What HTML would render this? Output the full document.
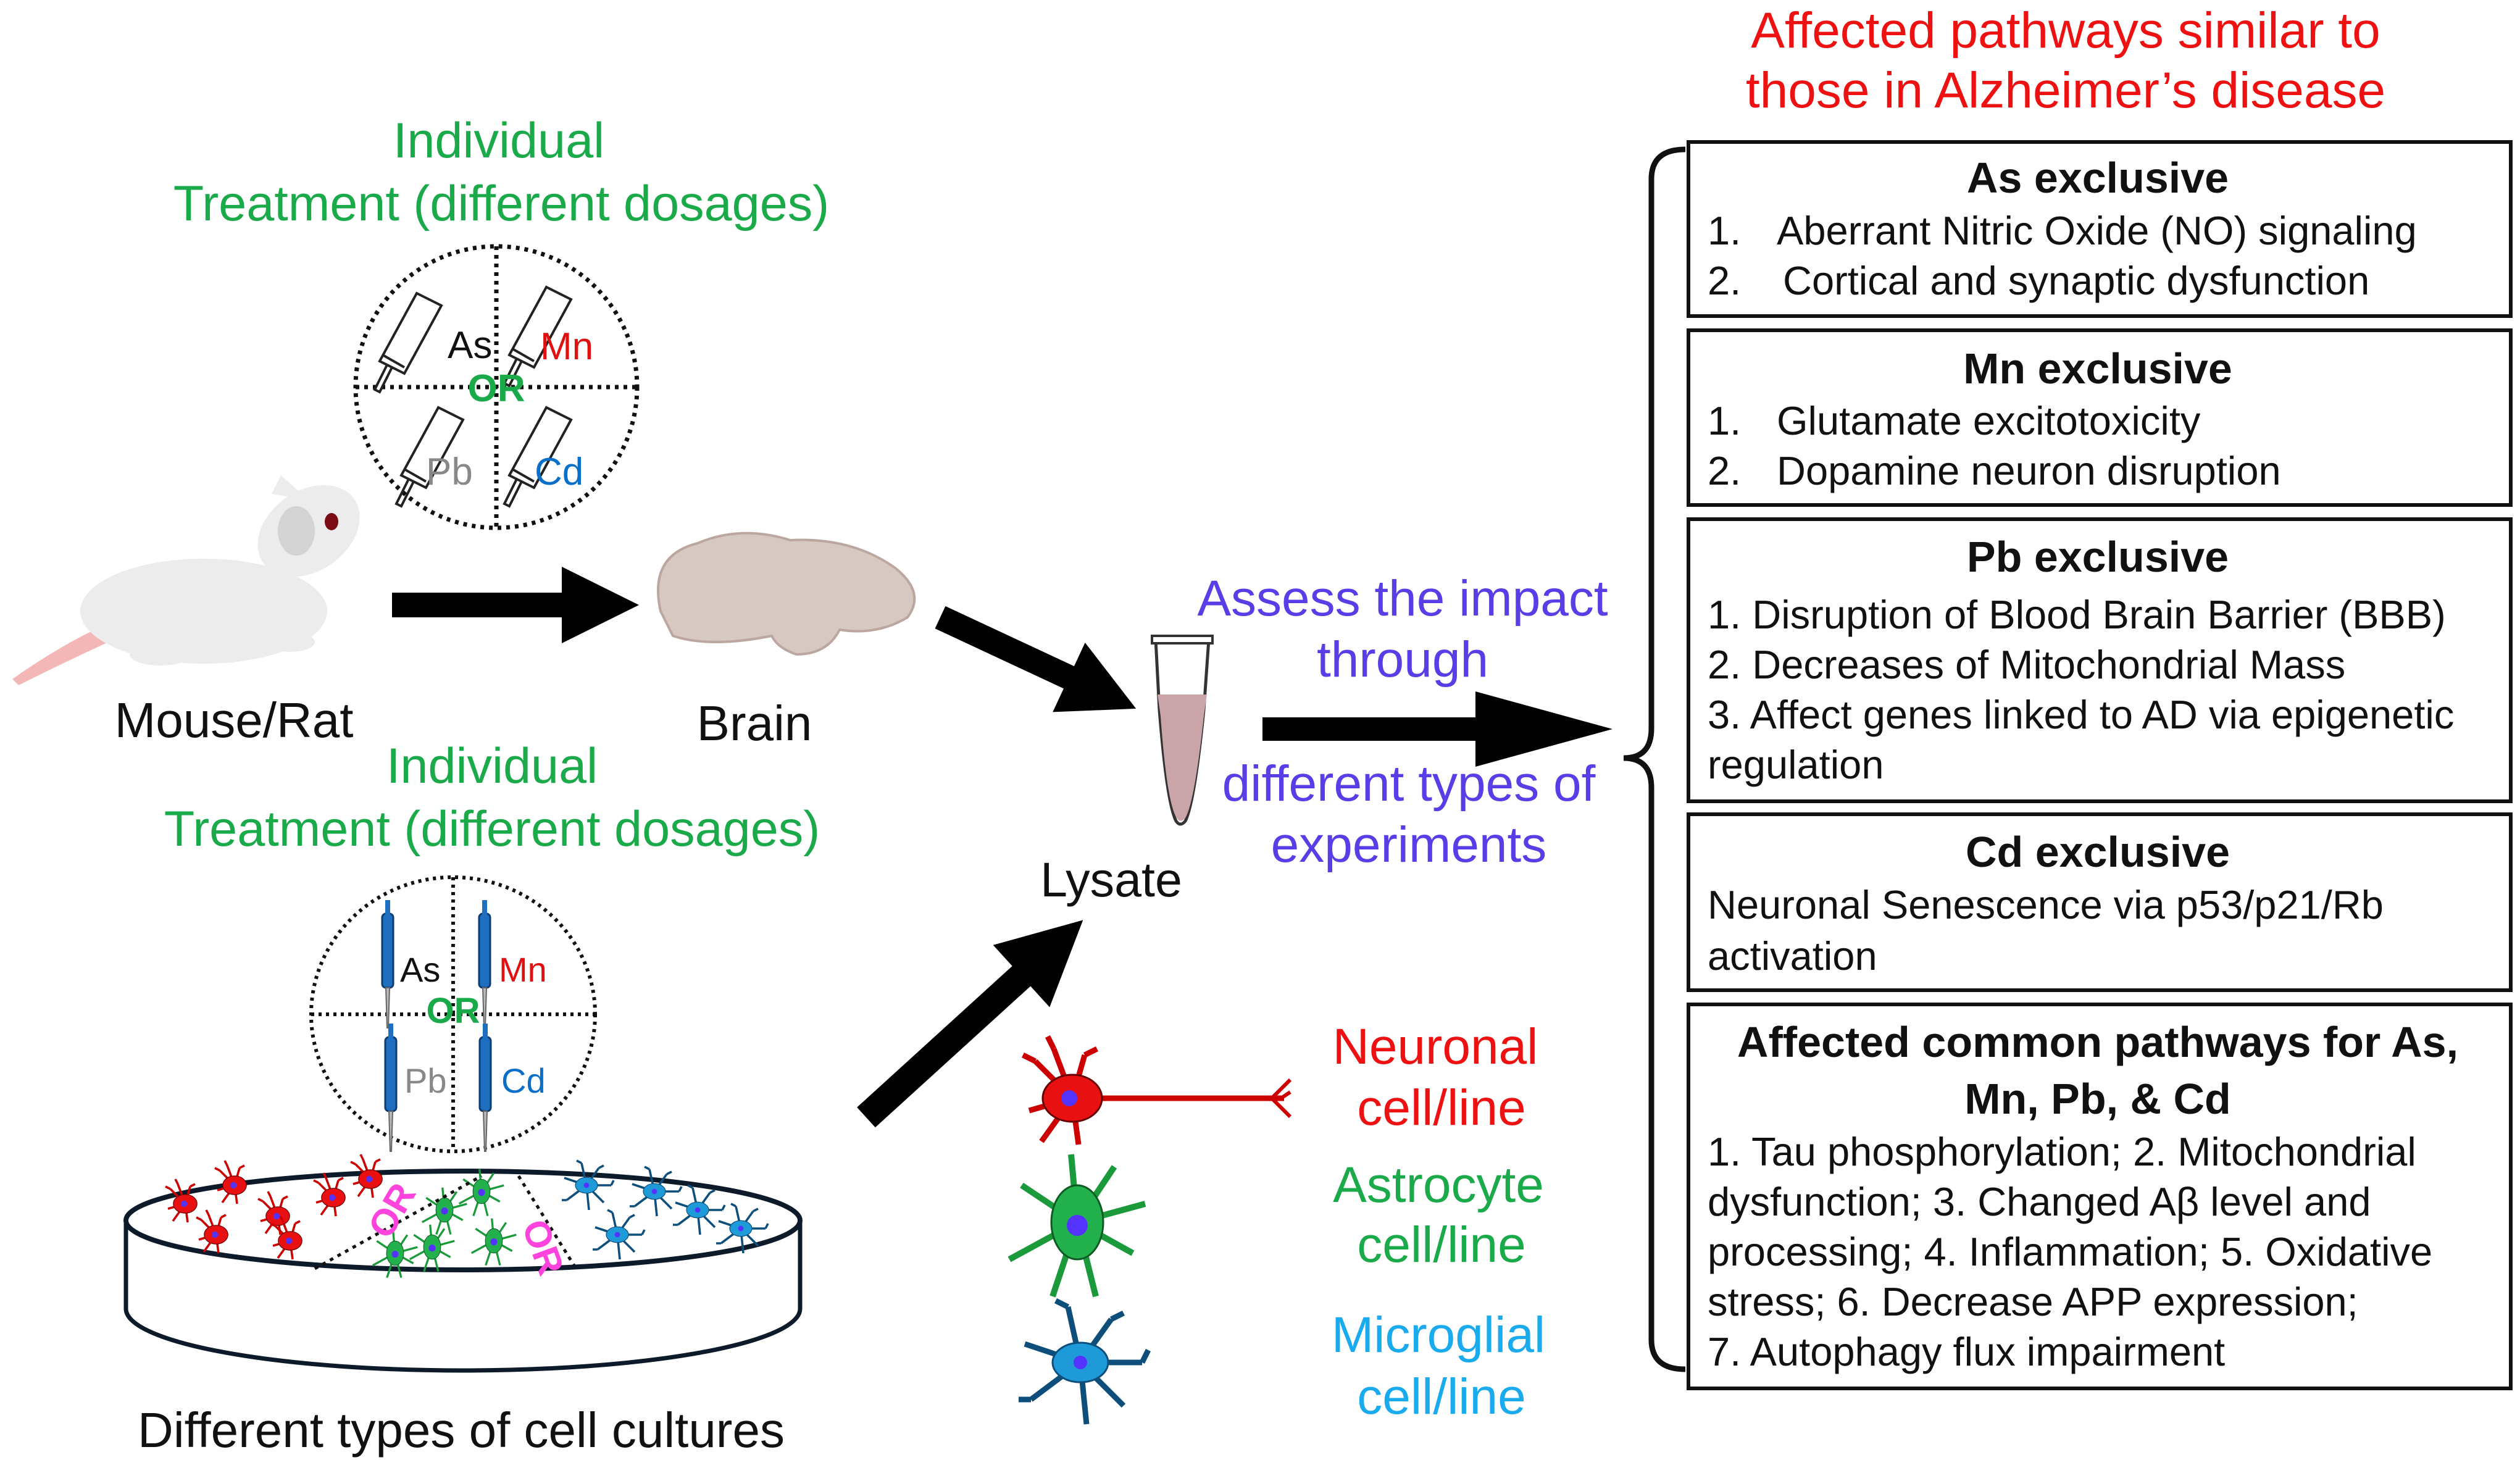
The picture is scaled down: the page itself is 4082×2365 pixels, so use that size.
<!DOCTYPE html>
<html><head><meta charset="utf-8"><style>
html,body{margin:0;padding:0;background:#fff;}
svg{display:block;}
text{font-family:"Liberation Sans",sans-serif;}
</style></head><body>
<svg width="4082" height="2365" viewBox="0 0 4082 2365" xmlns="http://www.w3.org/2000/svg">
<defs>
<g id="syr" fill="none" stroke="#222" stroke-width="4">
 <path d="M0,0 l60,-110 l40,20 l-60,110 z"/>
 <path d="M5,-10 l35,20 M20,10 l-20,40 l-8,-4 l20,-40"/>
</g>
<g id="pip">
 <rect x="-9" y="0" width="18" height="120" rx="6" fill="#1f6fc0" stroke="#0b3d75" stroke-width="3"/>
 <rect x="-4" y="-22" width="8" height="24" fill="#1f6fc0"/>
 <path d="M-3,120 L3,120 L1,185 L-1,185 Z" fill="#bbb" stroke="#666" stroke-width="2"/>
</g>
<g id="neu">
 <path d="M0,0 L-60,-60 M0,0 L-30,-80 M0,0 L20,-70 M0,0 L-70,20 M0,0 L-50,70 M0,0 L10,75 M-60,-60 l-20,-10 M-30,-80 l-10,-20 M20,-70 l20,-10" stroke="#c00" stroke-width="9" fill="none"/>
 <ellipse cx="0" cy="0" rx="48" ry="38" fill="#e81010" stroke="#600" stroke-width="3"/>
 <circle cx="-5" cy="0" r="13" fill="#5533ff"/>
</g>
<g id="ast">
 <path d="M0,0 L-10,-110 M0,0 L60,-90 M0,0 L-90,-60 M0,0 L110,-30 M0,0 L-110,60 M0,0 L-40,120 M0,0 L30,120 M0,0 L90,50" stroke="#1a9a3a" stroke-width="10" fill="none"/>
 <ellipse cx="0" cy="0" rx="42" ry="60" fill="#22b14c" stroke="#0d5a22" stroke-width="3"/>
 <circle cx="0" cy="5" r="17" fill="#5533ff"/>
</g>
<g id="mic">
 <path d="M0,0 L-20,-90 M0,0 L50,-70 M0,0 L-90,-30 M0,0 L100,0 M0,0 L-80,60 M0,0 L10,100 M0,0 L70,70 M-20,-90 l-20,-10 M50,-70 l20,-10 M100,0 l10,-20 M-80,60 l-20,0" stroke="#0d4f7a" stroke-width="9" fill="none"/>
 <ellipse cx="0" cy="0" rx="45" ry="32" fill="#1e9ad8" stroke="#0d4f7a" stroke-width="3"/>
 <circle cx="0" cy="0" r="11" fill="#5533ff"/>
</g>
</defs>

<!-- Top title -->
<text x="3346" y="77" font-size="82" fill="#ee1111" text-anchor="middle">Affected pathways similar to</text>
<text x="3346" y="174" font-size="82" fill="#ee1111" text-anchor="middle">those in Alzheimer’s disease</text>

<!-- Individual treatment top -->
<text x="808" y="255" font-size="81" fill="#1aaa4a" text-anchor="middle">Individual</text>
<text x="812" y="357" font-size="81" fill="#1aaa4a" text-anchor="middle">Treatment (different dosages)</text>

<!-- Top circle -->
<g stroke="#111" stroke-width="7" stroke-dasharray="6,8" fill="none">
 <circle cx="804" cy="627" r="228"/>
 <line x1="576" y1="627" x2="1032" y2="627"/>
 <line x1="804" y1="399" x2="804" y2="855"/>
</g>
<use href="#syr" x="615" y="585"/>
<use href="#syr" x="825" y="575"/>
<use href="#syr" x="650" y="770"/>
<use href="#syr" x="825" y="770"/>
<text x="725" y="580" font-size="62" fill="#111">As</text>
<text x="875" y="582" font-size="62" fill="#e01010">Mn</text>
<text x="804" y="650" font-size="62" font-weight="bold" fill="#1aaa4a" text-anchor="middle">OR</text>
<text x="690" y="785" font-size="62" fill="#888">Pb</text>
<text x="866" y="785" font-size="62" fill="#0a6fc8">Cd</text>

<!-- Mouse -->
<g fill="#ececec">
 <path d="M20,1100 Q120,1030 200,1000 L220,1020 Q130,1060 30,1110 Z" fill="#f4b7b7"/>
 <ellipse cx="330" cy="990" rx="200" ry="85"/>
 <ellipse cx="500" cy="860" rx="90" ry="65" transform="rotate(-35 500 860)"/>
 <path d="M440,800 L455,770 L500,810 Z"/>
 <ellipse cx="260" cy="1060" rx="50" ry="18"/>
 <ellipse cx="470" cy="1040" rx="40" ry="16"/>
</g>
<ellipse cx="480" cy="860" rx="30" ry="40" fill="#d4d4d4"/>
<ellipse cx="537" cy="845" rx="11" ry="14" fill="#7a0a14"/>
<text x="379" y="1194" font-size="80" fill="#111" text-anchor="middle">Mouse/Rat</text>

<!-- Arrow mouse->brain -->
<polygon points="635,960 910,960 910,918 1035,980 910,1042 910,1000 635,1000" fill="#000"/>

<!-- Brain -->
<path d="M1070,990 Q1050,900 1130,880 Q1200,850 1280,875 Q1380,870 1450,920 Q1500,960 1470,1000 Q1420,1030 1360,1020 Q1340,1060 1290,1060 Q1260,1050 1250,1030 Q1150,1050 1090,1030 Z" fill="#d8c8c2" stroke="#bba79f" stroke-width="4"/>
<text x="1222" y="1199" font-size="80" fill="#111" text-anchor="middle">Brain</text>

<!-- Arrow brain->lysate -->
<g transform="translate(1523,1000) rotate(25)">
 <polygon points="0,-20 230,-20 230,-62 350,0 230,62 230,20 0,20" fill="#000"/>
</g>

<!-- Tube -->
<path d="M1872,1036 L1958,1036 L1950,1150 Q1935,1300 1920,1330 Q1912,1340 1905,1330 Q1890,1300 1878,1150 Z" fill="#fff" stroke="#333" stroke-width="5"/>
<path d="M1875,1125 L1955,1125 L1950,1160 Q1935,1300 1920,1325 Q1912,1334 1906,1325 Q1890,1300 1880,1160 Z" fill="#c9a4a9"/>
<rect x="1866" y="1030" width="98" height="12" fill="#fff" stroke="#333" stroke-width="4"/>
<text x="1800" y="1452" font-size="79" fill="#111" text-anchor="middle">Lysate</text>

<!-- Assess text -->
<g font-size="82" fill="#5a3de6" text-anchor="middle">
<text x="2272" y="997">Assess the impact</text>
<text x="2272" y="1096">through</text>
<text x="2282" y="1297">different  types of</text>
<text x="2282" y="1396">experiments</text>
</g>

<!-- Arrow lysate->boxes -->
<polygon points="2045,1162 2390,1162 2390,1120 2612,1181 2390,1242 2390,1200 2045,1200" fill="#000"/>

<!-- Arrow cells->lysate -->
<g transform="translate(1403,1810) rotate(-42.3)">
 <polygon points="0,-22 340,-22 340,-68 475,0 340,68 340,22 0,22" fill="#000"/>
</g>

<!-- Bottom treatment -->
<text x="797" y="1268" font-size="81" fill="#1aaa4a" text-anchor="middle">Individual</text>
<text x="797" y="1370" font-size="81" fill="#1aaa4a" text-anchor="middle">Treatment (different dosages)</text>

<g stroke="#111" stroke-width="6" stroke-dasharray="5,7" fill="none">
 <ellipse cx="734" cy="1643" rx="230" ry="222"/>
 <line x1="504" y1="1643" x2="964" y2="1643"/>
 <line x1="734" y1="1421" x2="734" y2="1865"/>
</g>
<use href="#pip" x="628" y="1480"/>
<use href="#pip" x="785" y="1480"/>
<use href="#pip" x="633" y="1680"/>
<use href="#pip" x="786" y="1680"/>
<text x="648" y="1590" font-size="56" fill="#111">As</text>
<text x="808" y="1590" font-size="56" fill="#e01010">Mn</text>
<text x="734" y="1657" font-size="58" font-weight="bold" fill="#1aaa4a" text-anchor="middle">OR</text>
<text x="655" y="1770" font-size="56" fill="#888">Pb</text>
<text x="812" y="1770" font-size="56" fill="#0a6fc8">Cd</text>

<!-- Petri dish -->
<path d="M204,1977 L204,2120 A546,100 0 0 0 1296,2120 L1296,1977" fill="#fff" stroke="#0d1a2a" stroke-width="7"/>
<ellipse cx="750" cy="1977" rx="546" ry="80" fill="#fff" stroke="#0d1a2a" stroke-width="8"/>
<g>
 <use href="#neu" transform="translate(300,1950) scale(0.4)"/>
 <use href="#neu" transform="translate(380,1920) scale(0.4)"/>
 <use href="#neu" transform="translate(450,1970) scale(0.4)"/>
 <use href="#neu" transform="translate(540,1940) scale(0.4)"/>
 <use href="#neu" transform="translate(350,2000) scale(0.4)"/>
 <use href="#neu" transform="translate(470,2010) scale(0.4)"/>
 <use href="#neu" transform="translate(600,1910) scale(0.4)"/>
 <use href="#ast" transform="translate(720,1960) scale(0.33)"/>
 <use href="#ast" transform="translate(780,1930) scale(0.33)"/>
 <use href="#ast" transform="translate(700,2020) scale(0.33)"/>
 <use href="#ast" transform="translate(800,2010) scale(0.33)"/>
 <use href="#ast" transform="translate(640,2030) scale(0.33)"/>
 <use href="#mic" transform="translate(950,1920) scale(0.4)"/>
 <use href="#mic" transform="translate(1060,1930) scale(0.4)"/>
 <use href="#mic" transform="translate(1130,1960) scale(0.4)"/>
 <use href="#mic" transform="translate(1000,2000) scale(0.4)"/>
 <use href="#mic" transform="translate(1200,1990) scale(0.4)"/>
</g>
<g stroke="#111" stroke-width="5" stroke-dasharray="6,8">
 <line x1="510" y1="2055" x2="780" y2="1905"/>
 <line x1="840" y1="1905" x2="930" y2="2050"/>
</g>
<text x="630" y="2010" font-size="60" font-weight="bold" fill="#ff44dd" transform="rotate(-60 630 2010)">OR</text>
<text x="845" y="1985" font-size="60" font-weight="bold" fill="#ff44dd" transform="rotate(70 845 1985)">OR</text>
<text x="747" y="2344" font-size="80" fill="#111" text-anchor="middle">Different types of cell cultures</text>

<!-- Cell icons -->
<line x1="1770" y1="1779" x2="2080" y2="1779" stroke="#c00" stroke-width="9"/>
<path d="M2060,1779 l30,-30 M2060,1779 l30,30 M2075,1779 l15,-10" stroke="#c00" stroke-width="6" fill="none"/>
<use href="#neu" x="1737" y="1779"/>
<use href="#ast" x="1745" y="1980"/>
<use href="#mic" x="1750" y="2207"/>

<g font-size="82" text-anchor="middle">
<text x="2325" y="1723" fill="#ee1111">Neuronal</text>
<text x="2335" y="1822" fill="#ee1111">cell/line</text>
<text x="2330" y="1947" fill="#1aaa4a">Astrocyte</text>
<text x="2335" y="2044" fill="#1aaa4a">cell/line</text>
<text x="2330" y="2190" fill="#1aaaee">Microglial</text>
<text x="2335" y="2290" fill="#1aaaee">cell/line</text>
</g>

<!-- Brace -->
<path d="M2730,242 Q2675,242 2675,290 L2675,1180 Q2675,1228 2630,1228 Q2675,1228 2675,1276 L2675,2170 Q2675,2218 2730,2218" fill="none" stroke="#111" stroke-width="9"/>

<!-- Boxes -->
<g fill="none" stroke="#111" stroke-width="6">
 <rect x="2735" y="230" width="1332" height="282"/>
 <rect x="2735" y="535" width="1332" height="283"/>
 <rect x="2735" y="841" width="1332" height="457"/>
 <rect x="2735" y="1319" width="1332" height="285"/>
 <rect x="2735" y="1627" width="1332" height="622"/>
</g>
<g font-size="70" font-weight="bold" fill="#111" text-anchor="middle">
<text x="3398" y="312">As exclusive</text>
<text x="3398" y="621">Mn exclusive</text>
<text x="3398" y="926">Pb exclusive</text>
<text x="3398" y="1404">Cd exclusive</text>
<text x="3398" y="1712">Affected common pathways for As,</text>
<text x="3398" y="1804">Mn, Pb, &amp; Cd</text>
</g>
<g font-size="65" fill="#111">
<text x="2766" y="396">1.</text><text x="2878" y="396">Aberrant Nitric Oxide (NO) signaling</text>
<text x="2766" y="477">2.</text><text x="2888" y="477">Cortical and synaptic dysfunction</text>
<text x="2766" y="704">1.</text><text x="2878" y="704">Glutamate excitotoxicity</text>
<text x="2766" y="785">2.</text><text x="2878" y="785">Dopamine neuron disruption</text>
<text x="2766" y="1018">1. Disruption of Blood Brain Barrier (BBB)</text>
<text x="2766" y="1099">2. Decreases of Mitochondrial Mass</text>
<text x="2766" y="1180">3. Affect genes linked to AD via epigenetic</text>
<text x="2766" y="1261">regulation</text>
<text x="2766" y="1488">Neuronal Senescence via p53/p21/Rb</text>
<text x="2766" y="1571">activation</text>
<text x="2766" y="1888">1. Tau phosphorylation; 2. Mitochondrial</text>
<text x="2766" y="1969">dysfunction; 3. Changed Aβ level and</text>
<text x="2766" y="2050">processing; 4. Inflammation; 5. Oxidative</text>
<text x="2766" y="2131">stress; 6. Decrease APP expression;</text>
<text x="2766" y="2212">7. Autophagy flux impairment</text>
</g>
</svg>
</body></html>
